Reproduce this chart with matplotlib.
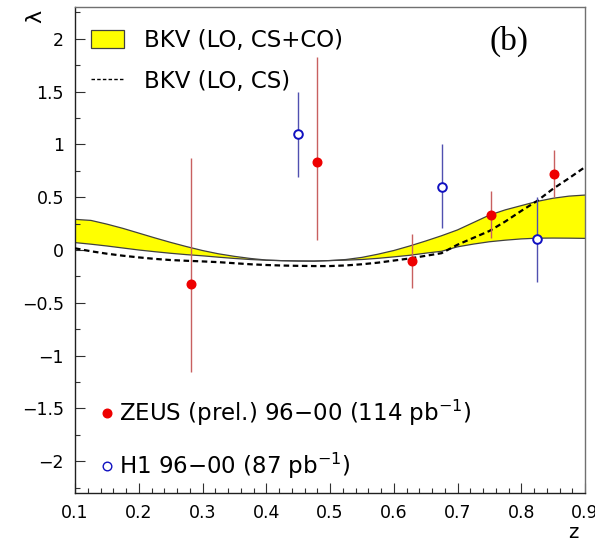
import matplotlib
matplotlib.use("Agg")
import matplotlib.pyplot as plt
from matplotlib.patches import Patch
from matplotlib.lines import Line2D
from matplotlib.ticker import MultipleLocator, FixedLocator

plt.rcParams['font.family'] = ['DejaVu Sans']
plt.rcParams['mathtext.fontset'] = 'dejavusans'

# ---- data ----
zeus_z = [0.282, 0.479, 0.629, 0.753, 0.852]
zeus_lam = [-0.32, 0.83, -0.107, 0.332, 0.72]
zeus_up = [0.869, 1.83, 0.149, 0.562, 0.948]
zeus_lo = [-1.153, 0.095, -0.363, 0.111, 0.505]

h1_z = [0.450, 0.675, 0.824]
h1_lam = [1.10, 0.60, 0.10]
h1_up = [1.50, 1.003, 0.50]
h1_lo = [0.695, 0.206, -0.30]

curve_z = [0.100, 0.125, 0.150, 0.175, 0.200, 0.225, 0.250, 0.275, 0.300,
           0.325, 0.350, 0.375, 0.400, 0.425, 0.450, 0.475, 0.500, 0.525,
           0.550, 0.575, 0.600, 0.625, 0.650, 0.675, 0.700, 0.725, 0.750,
           0.775, 0.800, 0.825, 0.850, 0.875, 0.900]
band_upper = [0.29, 0.28, 0.245, 0.205, 0.16, 0.115, 0.072, 0.032, -0.005,
              -0.036, -0.06, -0.08, -0.095, -0.101, -0.104, -0.105, -0.10, -0.09,
              -0.07, -0.04, -0.005, 0.038, 0.085, 0.135, 0.19, 0.26, 0.33,
              0.38, 0.42, 0.46, 0.49, 0.51, 0.52]
band_lower = [0.07, 0.055, 0.038, 0.019, 0.0, -0.016, -0.031, -0.044, -0.055,
              -0.068, -0.08, -0.09, -0.097, -0.101, -0.104, -0.105, -0.10, -0.096,
              -0.09, -0.079, -0.065, -0.05, -0.03, -0.012, 0.03, 0.056, 0.078,
              0.093, 0.105, 0.112, 0.113, 0.112, 0.11]
cs_only = [0.016, -0.012, -0.035, -0.054, -0.07, -0.084, -0.095, -0.102, -0.108,
           -0.115, -0.125, -0.135, -0.142, -0.147, -0.15, -0.152, -0.152, -0.146,
           -0.135, -0.12, -0.10, -0.08, -0.055, -0.03, 0.05, 0.115, 0.18,
           0.27, 0.37, 0.465, 0.58, 0.68, 0.785]

xticks = [0.1, 0.2, 0.3, 0.4, 0.5, 0.6, 0.7, 0.8, 0.9]
yticks = [-2, -1.5, -1, -0.5, 0, 0.5, 1, 1.5, 2]
ytick_labels = ['\u22122', '\u22121.5', '\u22121', '\u22120.5', '0', '0.5', '1', '1.5', '2']

label_band = 'BKV (LO, CS+CO)'
label_cs = 'BKV (LO, CS)'
label_zeus = 'ZEUS (prel.) 96\u221200 (114 pb$^{-1}$)'
label_h1 = 'H1 96\u221200 (87 pb$^{-1}$)'

# ---- figure ----
fig = plt.figure(figsize=(5.95, 5.42), dpi=100)
ax = fig.add_axes([75/595, 49/542, 510/595, 486/542])

ax.fill_between(curve_z, band_lower, band_upper, facecolor='#ffff00',
                edgecolor='none', zorder=1)
ax.plot(curve_z, band_upper, color='#404040', lw=0.9, zorder=2)
ax.plot(curve_z, band_lower, color='#404040', lw=0.9, zorder=2)
ax.plot(curve_z, cs_only, color='black', lw=1.6, ls=(0, (2.5, 1.6)), zorder=3)

# error bars
ax.vlines(zeus_z, zeus_lo, zeus_up, color='#c86060', lw=1.0, zorder=4)
ax.vlines(h1_z, h1_lo, h1_up, color='#5050b0', lw=1.0, zorder=4)
ax.plot(zeus_z, zeus_lam, 'o', color='#ee0000', ms=6.2, mec='#ee0000', zorder=5)
ax.plot(h1_z, h1_lam, 'o', mfc='white', mec='#1010c0', mew=1.4, ms=6.2, zorder=5)

ax.set_xlim(0.1, 0.9)
ax.set_ylim(-2.3, 2.3)
ax.xaxis.set_major_locator(FixedLocator(xticks))
ax.xaxis.set_minor_locator(MultipleLocator(0.02))
ax.set_yticks(yticks)
ax.set_yticklabels(ytick_labels)
ax.yaxis.set_minor_locator(MultipleLocator(0.25))
ax.tick_params(which='both', direction='in', top=False, right=False,
               labelsize=12.5, color='#303030')
ax.tick_params(which='major', length=7, width=0.8, pad=8)
ax.tick_params(which='minor', length=3.5, width=0.8)
for s in ['left', 'bottom']:
    ax.spines[s].set_color('#202020')
    ax.spines[s].set_linewidth(1.0)
for s in ['top', 'right']:
    ax.spines[s].set_color('#707070')
    ax.spines[s].set_linewidth(1.0)

ax.set_ylabel('\u03bb', fontsize=16, rotation=90)
ax.yaxis.label.set(va='center', ha='center', rotation_mode='default')
ax.yaxis.set_label_coords(-0.078, 0.981)
ax.set_xlabel('z', fontsize=14)
ax.xaxis.label.set(va='center', ha='center')
ax.xaxis.set_label_coords(0.978, -0.082)

ax.text(0.851, 0.93, '(b)', transform=ax.transAxes, fontsize=24,
        family='Liberation Serif', ha='center', va='center')

h_band = Patch(facecolor='#ffff00', edgecolor='#404040', lw=0.9)
h_cs = Line2D([], [], color='black', lw=1.0, ls=(0, (2.5, 1.6)))
leg1 = ax.legend([h_band, h_cs], [label_band, label_cs], loc='upper left',
                 bbox_to_anchor=(0.031, 0.955), frameon=False, fontsize=16.5,
                 handlelength=1.44, handleheight=0.79, handletextpad=0.87,
                 labelspacing=0.78, borderaxespad=0, borderpad=0)
ax.add_artist(leg1)

h_z = Line2D([], [], marker='o', ls='none', color='#ee0000', ms=6.2)
h_h = Line2D([], [], marker='o', ls='none', mfc='white', mec='#1010c0',
             mew=1.0, ms=6.2)
leg2 = ax.legend([h_z, h_h], [label_zeus, label_h1], loc='lower left',
                 bbox_to_anchor=(0.045, 0.024), frameon=False, fontsize=16.5,
                 handlelength=0.8, handletextpad=0.1, labelspacing=1.0,
                 borderaxespad=0, borderpad=0)

fig.savefig('out.png', dpi=100)
